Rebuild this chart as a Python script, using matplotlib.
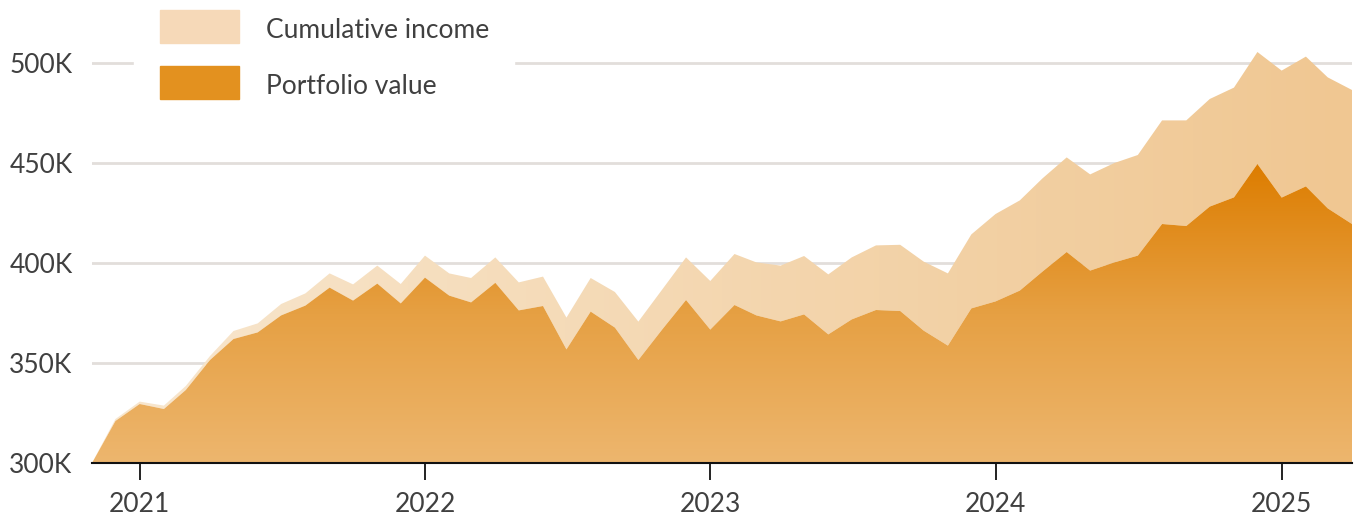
import numpy as np
import pandas as pd
import matplotlib
matplotlib.use('Agg')
import matplotlib.pyplot as plt
import matplotlib.dates as mdates
from matplotlib.colors import LinearSegmentedColormap
from matplotlib.patches import Rectangle

# monthly values, thousands
dates = pd.date_range('2020-11-01', periods=54, freq='MS')
portfolio = [300, 321, 329.5, 327, 336.5, 351.5, 362, 365.3, 373.8, 378.7,
             387.7, 381.2, 389.7, 379.8, 392.7, 383.7, 380.3, 390.1, 376.3, 378.5,
             356.8, 375.7, 367.7, 351.5, 367, 381.5, 366.7, 379, 373.8, 370.8,
             374.3, 364.3, 371.8, 376.5, 376, 366.2, 358.7, 377.3, 380.8, 386.2,
             395.7, 405.5, 396.2, 400.3, 403.7, 419.5, 418.5, 428.2, 432.8, 449.5,
             432.7, 438.3, 427.3, 419.5]
income = [0, 1, 1.2, 1.7, 2, 2, 4, 4.5, 5.7, 6.1,
          7.1, 8.1, 9, 9.7, 11, 11.1, 12.2, 12.7, 14, 14.7,
          15.9, 16.8, 17.8, 19.2, 20, 21.3, 24.3, 25.5, 26.5, 27.9,
          29.2, 30, 31, 32.3, 33.1, 34.5, 36.1, 37, 43.7, 45.1,
          46.6, 47.3, 48.1, 49.7, 50.3, 51.8, 52.8, 53.8, 54.9, 56,
          63.5, 64.9, 65.5, 67]
yticks = [300, 350, 400, 450, 500]
ytick_labels = ['300K', '350K', '400K', '450K', '500K']
years = ['2021', '2022', '2023', '2024', '2025']

plt.rcParams['font.family'] = ['Lato', 'DejaVu Sans']
txt_color = '#404040'

x = mdates.date2num(dates)
port = np.array(portfolio)
top = port + np.array(income)

W, H = 1355, 517
fig = plt.figure(figsize=(W / 100, H / 100), dpi=100)
ax = fig.add_axes([92 / W, (H - 463) / H, 1260 / W, 463 / H])
ax.set_xlim(x[0], x[-1])
ax.set_ylim(300, 531.5)

for v in yticks[1:]:
    ax.axhline(v, color='#e2dedb', lw=2, zorder=1)

# cumulative income band, horizontal gradient
band = ax.fill_between(x, port, top, color='none', lw=0, zorder=2)
cm_inc = LinearSegmentedColormap.from_list('inc', ['#f8e7cf', '#f0c792'])
im = ax.imshow(np.linspace(0, 1, 256).reshape(1, -1), cmap=cm_inc, aspect='auto',
               extent=[x[0], x[-1], 300, 531.5], origin='lower', zorder=2,
               interpolation='bicubic')
im.set_clip_path(band.get_paths()[0], transform=ax.transData)

# portfolio value, vertical gradient
area = ax.fill_between(x, 300, port, color='none', lw=0, zorder=3)
cm_port = LinearSegmentedColormap.from_list('port', ['#edb66e', '#e6a043', '#dd7d00'])
im2 = ax.imshow(np.linspace(0, 1, 256).reshape(-1, 1), cmap=cm_port, aspect='auto',
                extent=[x[0], x[-1], 300, port.max()], origin='lower', zorder=3,
                interpolation='bicubic')
im2.set_clip_path(area.get_paths()[0], transform=ax.transData)
ax.set_xlim(x[0], x[-1])
ax.set_ylim(300, 531.5)

for s in ['top', 'right', 'left']:
    ax.spines[s].set_visible(False)
ax.spines['bottom'].set_color('#111111')
ax.spines['bottom'].set_linewidth(1.5)
ax.spines['bottom'].set_zorder(5)

ax.set_yticks(yticks)
ax.set_yticklabels(ytick_labels)
ax.tick_params(axis='y', length=0, pad=14, labelsize=19, labelcolor=txt_color)
ax.set_xticks([mdates.date2num(pd.Timestamp(y + '-01-01')) for y in years])
ax.set_xticklabels(years)
ax.tick_params(axis='x', length=12, width=1.3, color='#111111', pad=9,
               labelsize=19, labelcolor=txt_color)

# legend
fig.patches.append(Rectangle((134 / W, 1 - 112 / H), 380 / W, 112 / H,
                             transform=fig.transFigure, color='white', zorder=6))
fig.patches.append(Rectangle((160 / W, 1 - 43 / H), 79 / W, 33 / H,
                             transform=fig.transFigure, color='#f6d9b8', zorder=7))
fig.patches.append(Rectangle((160 / W, 1 - 99 / H), 79 / W, 33 / H,
                             transform=fig.transFigure, color='#e3911f', zorder=7))
fig.text(266 / W, 1 - 30 / H, 'Cumulative income', fontsize=19, color=txt_color,
         va='center', ha='left', zorder=8)
fig.text(266 / W, 1 - 87 / H, 'Portfolio value', fontsize=19, color=txt_color,
         va='center', ha='left', zorder=8)

fig.savefig('out.png', dpi=100)
